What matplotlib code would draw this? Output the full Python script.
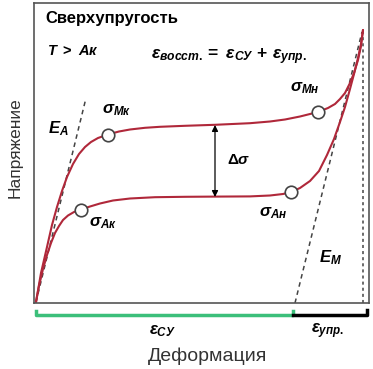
import matplotlib
matplotlib.use("Agg")
import matplotlib.pyplot as plt

plt.rcParams['font.family'] = ['Liberation Sans', 'DejaVu Sans']
plt.rcParams['mathtext.fontset'] = 'custom'
plt.rcParams['mathtext.rm'] = 'Liberation Sans:bold'
plt.rcParams['mathtext.it'] = 'Liberation Sans:italic:bold'
plt.rcParams['mathtext.bf'] = 'Liberation Sans:italic:bold'

# loading curve (martensite forward transformation)
load_x = [1, 6, 12, 17, 22, 27, 32, 38, 44, 50, 56, 63, 73, 84, 95, 110, 125, 150, 180, 215,
          235, 250, 265, 283, 293, 300, 305, 310, 315, 319, 323, 326, 328]
load_y = [1, 30, 56, 78, 96, 112, 126, 139, 149, 156, 161, 165, 168.5, 171.5, 173.5, 175.2, 176.2, 177.2, 178.2, 179.8,
          181.5, 183.5, 186.5, 191, 195, 199, 204, 210, 220, 230, 243, 257, 273]
# unloading curve (reverse transformation)
unload_x = [1, 4, 8, 12, 16, 20, 24, 28, 33, 39, 46, 55, 65, 78, 95, 120, 150, 180, 215,
            235, 248, 256, 265, 275, 284, 292, 299, 305, 310, 315, 319, 323, 326, 328]
unload_y = [1, 17, 34, 48, 60, 70, 77, 83, 87.5, 91, 93.5, 96.5, 99.5, 102.5, 104.5, 105.8, 106.2, 106.4, 106.6,
            107.5, 109, 111, 115, 122, 132, 148, 164, 181, 196, 214, 229, 245, 259, 273]

points_x = [73, 283, 46, 256]
points_y = [168.5, 191, 93.5, 111]

ea_x = [1, 51]
ea_y = [1, 205]
em_x = [260, 327]
em_y = [0, 271]

red = '#b0283a'

fig = plt.figure(figsize=(3.73, 3.69), dpi=100)
ax = fig.add_axes([34 / 373, 66 / 369, 335 / 373, 300 / 369])
ax.set_xlim(-1, 334)
ax.set_ylim(0, 300)
ax.set_xticks([])
ax.set_yticks([])
for s in ax.spines.values():
    s.set_color('#555555')
    s.set_linewidth(1.2)

# dashed elastic lines and dotted vertical
ax.plot(ea_x, ea_y, color='#444444', lw=1.1, ls=(0, (3, 2.5)))
ax.plot(em_x, em_y, color='#444444', lw=1.1, ls=(0, (3, 2.5)))
ax.plot([328, 328], [0, 273], color='#444444', lw=1.1, ls=(0, (2, 2)))

# hysteresis curves
ax.plot(load_x, load_y, color=red, lw=1.5, solid_capstyle='round', solid_joinstyle='round')
ax.plot(unload_x, unload_y, color=red, lw=1.5, solid_capstyle='round', solid_joinstyle='round')
ax.plot(points_x, points_y, 'o', ms=9, mfc='white', mec='#444444', mew=1.2, zorder=5)

# delta sigma arrow
ax.annotate('', xy=(180, 178), xytext=(180, 106),
            arrowprops=dict(arrowstyle='<|-|>', color='black', lw=0.9,
                            mutation_scale=9, shrinkA=0, shrinkB=0))
ax.text(192, 143, r'$Δσ$', fontsize=11, va='center', ha='left')

# labels
ax.text(10, 285, 'Сверхупругость', fontsize=12, fontweight='bold', va='center')
ax.text(12, 252, r'$T\ >\ Aк$', fontsize=10.5, va='center')
ax.text(116, 246, r'$ε_{восст.}\mathrm{=}\ ε_{СУ}\ \mathrm{+}\ ε_{упр.}$', fontsize=12.5, va='center')
ax.text(270, 215, r'$σ_{Мн}$', fontsize=12, ha='center', va='center')
ax.text(82, 193, r'$σ_{Мк}$', fontsize=12, ha='center', va='center')
ax.text(68, 80, r'$σ_{Ак}$', fontsize=12, ha='center', va='center')
ax.text(238, 90, r'$σ_{Ан}$', fontsize=12, ha='center', va='center')
ax.text(23, 174, r'$E_{A}$', fontsize=12, ha='center', va='center')
ax.text(295, 45, r'$E_{M}$', fontsize=12, ha='center', va='center')

# strain brackets under axis
ax.plot([1, 1, 258, 258], [-8, -12, -12, -8], color='#3cbf7a', lw=2.5, clip_on=False)
ax.plot([258, 332, 332], [-12, -12, -7], color='black', lw=2.5, clip_on=False)
ax.text(127, -28, r'$ε_{СУ}$', fontsize=12, ha='center', va='center', clip_on=False)
ax.text(293, -28, r'$ε_{упр.}$', fontsize=12, ha='center', va='center', clip_on=False)

ax.text(173, -53, 'Деформация', fontsize=14, ha='center', va='center', color='#333333', clip_on=False)
ax.text(-20, 155, 'Напряжение', fontsize=12.5, ha='center', va='center', rotation=90,
        color='#333333', clip_on=False)

fig.savefig('out.png', dpi=100)
